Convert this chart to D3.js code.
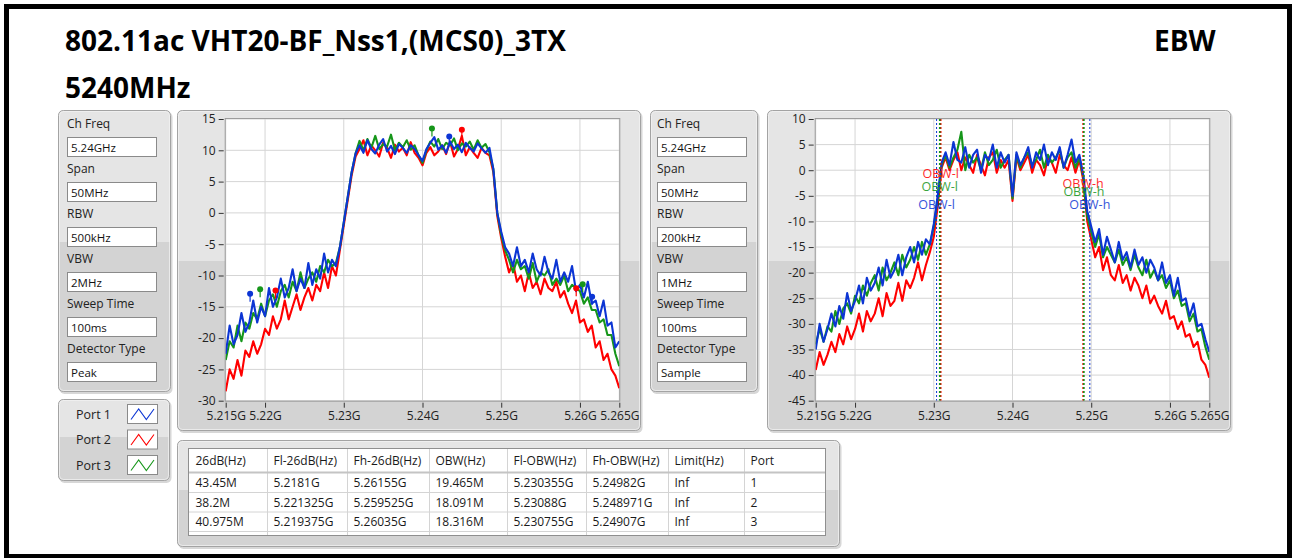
<!DOCTYPE html>
<html>
<head>
<meta charset="utf-8">
<script src="https://cdn.jsdelivr.net/npm/d3@7"></script>
<style>
body{margin:0;padding:0;overflow:hidden;background:#fff;}
text{font-family:"Open Sans","Noto Sans",sans-serif;}
</style>
</head>
<body>
<script>
// ---- data ----
const freqStart = 5.215, freqStep = 0.0005;          // GHz, sample grid of the traces
const freqTicks = [5.215, 5.22, 5.23, 5.24, 5.25, 5.26, 5.265];
const ebwTicks = [15, 10, 5, 0, -5, -10, -15, -20, -25, -30];
const obwTicks = [10, 5, 0, -5, -10, -15, -20, -25, -30, -35, -40, -45];

const portNames = ["Port 1", "Port 2", "Port 3"];
const settingLabels = ["Ch Freq", "Span", "RBW", "VBW", "Sweep Time", "Detector Type"];
const ebwSettings = ["5.24GHz", "50MHz", "500kHz", "2MHz", "100ms", "Peak"];
const obwSettings = ["5.24GHz", "50MHz", "200kHz", "1MHz", "100ms", "Sample"];

// left chart (EBW, peak detector), dBm per 0.5 MHz
const ebwPort1 = [-22.5,-18,-21,-19.5,-16,-19,-17.5,-14,-17.5,-15,-16.5,-12,-15,-13.5,-10.5,-13.5,-12,-9,-12.5,-10.5,
  -12,-8,-11.5,-9,-10.5,-6.5,-9.5,-7.5,-8.5,-5.5,-1.5,2.5,6.5,9.5,10.8,9.6,11.6,10.2,9.5,10.9,
  11.8,9.8,10.7,9.4,11,10.4,9.6,10.8,10.2,9.2,8.3,10.2,11.2,12.1,10.1,10.8,9.6,11.4,10.2,10.9,
  9.7,11.2,10.4,9.8,11.1,10.3,9.6,10.4,7,0,-3,-5.5,-6.5,-8.5,-5.5,-8.5,-7.5,-9.5,-6.5,-9,
  -10,-7,-9.5,-10.5,-7.5,-11,-9.5,-11,-8.5,-12.5,-11.5,-13.5,-11,-14.5,-14,-16.5,-14,-18,-17.5,-21.5,-20.5];
const ebwPort2 = [-28.5,-25,-26.5,-23.5,-26,-22,-23,-20.5,-22.5,-21,-18.5,-19.5,-16.5,-18.5,-17,-14,-17,-15,-13,-15.5,
  -13.5,-12,-14,-11.5,-12.5,-9.5,-12,-8.5,-10,-6,-2,2,6,9,10.2,11.6,9.2,10.8,10,9,
  11.2,10.4,8.8,10.9,9.8,10.4,9.2,11.3,9.6,8.8,7.6,9.6,10.5,9.2,9.8,10.8,9.4,11.4,9,10.2,
  12.3,9.2,10.5,9.6,8.8,10.4,9.6,9.2,6.5,-0.5,-4,-7,-9.5,-8,-11,-10,-12.5,-9.5,-12,-11,
  -13,-10.5,-12,-12.5,-11,-13.5,-12.5,-14.5,-16,-14,-17.5,-17,-19,-18,-21.5,-20.5,-23.5,-22.5,-25,-26,-28];
const ebwPort3 = [-23.5,-20.5,-21.5,-18,-20.5,-17.5,-18.5,-16,-17,-14.5,-16.5,-14,-13,-15,-12.5,-11.5,-13.5,-11,-12.5,-9.5,
  -12,-10.5,-9.5,-11,-8.5,-9.5,-7.5,-8.5,-8,-5.5,-1.5,2.5,6.5,9.5,11.5,10,11.8,10.4,12.3,10.2,
  11,10.6,12.5,10,11.2,10.5,11.6,10.1,10.8,9.2,8,10,11.4,10.6,11.8,10.2,11.2,10.8,11.9,10,
  11.1,10.6,11.4,10.1,11.6,10.4,11,9.7,7,0,-3.5,-6,-7.5,-9.5,-7.5,-9,-8.5,-10.5,-8,-11,
  -9.5,-10,-9,-11.5,-10.5,-11.5,-10,-12.5,-11.5,-12,-12.5,-14.5,-13.5,-15.5,-15.5,-17.5,-17,-19.5,-19.5,-22.5,-24.5];

// right chart (OBW, sample detector)
const obwPort1 = [-35,-30,-33.5,-31,-28,-30.5,-26.5,-29,-24,-27.5,-25.5,-22.5,-26,-21,-23.5,-22,-19,-22.5,-17.5,-21,
  -19.5,-16.5,-20.5,-17,-15,-18,-14,-16.5,-13.5,-14.5,-10.5,-5,1.5,3.5,1,5.5,2,1.5,4.5,0.5,
  3,4,-0.5,3,2,5,0.5,3.5,1.5,3,-5,3.5,1,2.5,4.5,0.5,3.5,2,5,1,
  3.5,2,4.5,0.5,3,6,1.5,3,-1,-8,-11,-14,-11.5,-16.5,-13,-15.5,-18,-14,-17.5,-16,
  -19,-15.5,-18.5,-17,-20,-17.5,-19,-21.5,-18,-22,-20.5,-24.5,-21,-25.5,-25,-28.5,-26,-30.5,-30,-33,-35.5];
const obwPort2 = [-39,-35.5,-38,-36,-33.5,-35.5,-32,-34,-30.5,-33,-31,-28,-31.5,-27.5,-29.5,-28,-25,-28.5,-24,-26.5,
  -25.5,-22,-25.5,-21.5,-23,-21,-18,-21.5,-18.5,-16,-13,-7,0.5,2.5,0,2,3.5,0,2.5,1,
  -0.5,3,1,-1,2.5,3.5,-0.5,2,0.5,2,-6,2.5,0,1.5,3,-0.5,2,1,-1,2.5,
  1.5,-0.5,3,1,0,2.5,-0.5,2,-2,-10,-13.5,-17,-15,-19.5,-17,-20.5,-21.5,-18.5,-22,-20.5,
  -23.5,-21,-22.5,-25,-22.5,-26,-24.5,-26.5,-28,-25.5,-29,-28.5,-31,-29.5,-32.5,-32,-34.5,-33.5,-37,-38,-40.5];
const obwPort3 = [-34,-31,-33.5,-30.5,-31.5,-27.5,-30,-27,-26,-28,-24.5,-26,-22.5,-24.5,-22,-20.5,-23.5,-19,-21.5,-20,
  -18,-20.5,-16.5,-19,-17.5,-15,-17.5,-14,-16.5,-14.5,-11,-5.5,1,3,0.5,2.5,4,7.5,0,3,
  1.5,2.5,0,3.5,1,2,4,0.5,2,3,-5.5,3,0.5,2.5,3.5,1,2,4,0.5,3,
  1.5,2.5,4,0.5,2.5,3.5,0.5,2.5,-1.5,-9,-12,-15,-12.5,-17,-15,-16.5,-18,-15.5,-18.5,-17,
  -19.5,-16.5,-19,-20.5,-17.5,-21,-19.5,-21.5,-20.5,-23,-21.5,-25,-23.5,-26.5,-26,-29.5,-28,-31.5,-31,-34.5,-37];

// results table, per port (GHz / MHz)
const tableHeaders = ["26dB(Hz)", "Fl-26dB(Hz)", "Fh-26dB(Hz)", "OBW(Hz)", "Fl-OBW(Hz)", "Fh-OBW(Hz)", "Limit(Hz)", "Port"];
const bw26 = [43.45, 38.2, 40.975];
const fl26 = [5.2181, 5.221325, 5.219375];
const fh26 = [5.26155, 5.259525, 5.26035];
const obw = [19.465, 18.091, 18.316];
const flObw = [5.230355, 5.23088, 5.230755];
const fhObw = [5.24982, 5.248971, 5.24907];
const limits = ["Inf", "Inf", "Inf"];

// markers on the EBW chart
const peakFreq = [5.2434, 5.245, 5.2412];
const peakDb = [12.2, 13.3, 13.5];
const fl26Db = [-12.9, -12.4, -12.2];
const fh26Db = [-13.4, -12.05, -11.4];
// OBW label heights on the right chart
const obwLowLabelDb = [-6.6, -0.6, -3.1];
const obwHighLabelDb = [-6.6, -2.6, -4.1];

const portColors = ["#0c35d4", "#ff0000", "#16961a"];

// ---- drawing ----
const W = 1292, H = 558;
const svg = d3.select("body").append("svg").attr("width", W).attr("height", H);
svg.append("rect").attr("width", W).attr("height", H).attr("fill", "#fff");
svg.append("rect").attr("x", 6.5).attr("y", 6.5).attr("width", 1283).attr("height", 550)
  .attr("fill", "none").attr("stroke", "#000").attr("stroke-width", 5);

svg.append("text").attr("x", 65).attr("y", 51).attr("font-size", 28).attr("font-weight", 700)
  .text("802.11ac VHT20-BF_Nss1,(MCS0)_3TX");
svg.append("text").attr("x", 65).attr("y", 98).attr("font-size", 28).attr("font-weight", 700).text("5240MHz");
svg.append("text").attr("x", 1154).attr("y", 51).attr("font-size", 28).attr("font-weight", 700).text("EBW");

let clipId = 0;
function panel(x, y, w, h, split) {
  const g = svg.append("g");
  g.append("rect").attr("x", x + 1.5).attr("y", y + 2).attr("width", w).attr("height", h).attr("rx", 5)
    .attr("fill", "#bdbdbd").attr("opacity", 0.6);
  const id = "pc" + (clipId++);
  g.append("clipPath").attr("id", id).append("rect").attr("x", x).attr("y", y).attr("width", w).attr("height", h).attr("rx", 5);
  const inner = g.append("g").attr("clip-path", `url(#${id})`);
  inner.append("rect").attr("x", x).attr("y", y).attr("width", w).attr("height", split - y).attr("fill", "#e5e5e5");
  inner.append("rect").attr("x", x).attr("y", split).attr("width", w).attr("height", y + h - split).attr("fill", "#d3d3d3");
  g.append("rect").attr("x", x + 0.5).attr("y", y + 0.5).attr("width", w - 1).attr("height", h - 1).attr("rx", 5)
    .attr("fill", "none").attr("stroke", "#a3a3a3");
  g.append("rect").attr("x", x + 1.5).attr("y", y + 1.5).attr("width", w - 3).attr("height", h - 3).attr("rx", 4)
    .attr("fill", "none").attr("stroke", "#f4f4f4").attr("opacity", 0.7);
  return g;
}

function settings(x, y, w, h, bx, values) {
  const g = panel(x, y, w, h, 242);
  settingLabels.forEach((lab, i) => {
    const ty = 128 + i * 45;
    g.append("text").attr("x", bx).attr("y", ty).attr("font-size", 12).attr("fill", "#222").text(lab);
    g.append("rect").attr("x", bx + 0.5).attr("y", ty + 9.5).attr("width", 89).attr("height", 19)
      .attr("fill", "#fff").attr("stroke", "#8a8a8a");
    g.append("text").attr("x", bx + 4).attr("y", ty + 23.5).attr("font-size", 11.5).attr("fill", "#111").text(values[i]);
  });
}
settings(58, 110, 113, 282, 67, ebwSettings);
settings(650, 110, 108, 282, 657, obwSettings);

// legend
const lg = panel(58, 399, 112, 82, 437);
portNames.forEach((p, i) => {
  const cy = 414 + i * 25.5;
  lg.append("text").attr("x", 76).attr("y", cy + 4.5).attr("font-size", 12.5).attr("fill", "#222").text(p);
  lg.append("rect").attr("x", 127.5).attr("y", cy - 9.5).attr("width", 30).attr("height", 19)
    .attr("fill", "#fff").attr("stroke", "#8a8a8a");
  const sx = d3.scaleLinear().domain([0, 3]).range([131, 154]);
  const zig = [[0, 5.5], [1, -5], [2, 5.5], [3, -5]];
  lg.append("path").attr("d", d3.line().x(d => sx(d[0])).y(d => cy + d[1])(zig))
    .attr("fill", "none").attr("stroke", portColors[i]).attr("stroke-width", 1.1);
});

function chart(opt) {
  const top = 119, bottom = 400.7, pw = 393.6;
  const g = panel(opt.px, 110, 464, 321, 261);
  const x = d3.scaleLinear().domain([freqTicks[0], freqTicks[freqTicks.length - 1]]).range([opt.left, opt.left + pw]);
  const y = d3.scaleLinear().domain(opt.yDomain).range([bottom, top]);
  g.append("rect").attr("x", opt.left).attr("y", top).attr("width", pw).attr("height", bottom - top).attr("fill", "#fff");
  g.selectAll(".gx").data(freqTicks).join("line").attr("x1", d => x(d)).attr("x2", d => x(d))
    .attr("y1", top).attr("y2", bottom).attr("stroke", "#d5d5d5");
  g.selectAll(".gy").data(opt.yTicks).join("line").attr("x1", opt.left).attr("x2", opt.left + pw)
    .attr("y1", d => y(d)).attr("y2", d => y(d)).attr("stroke", "#d5d5d5");
  g.append("rect").attr("x", opt.left - 0.5).attr("y", top - 0.5).attr("width", pw + 1).attr("height", bottom - top + 1)
    .attr("fill", "none").attr("stroke", "#9c9c9c");

  const id = "plot" + (clipId++);
  g.append("clipPath").attr("id", id).append("rect").attr("x", opt.left).attr("y", top).attr("width", pw).attr("height", bottom - top);
  const plot = g.append("g").attr("clip-path", `url(#${id})`);
  const line = d3.line().x((d, i) => x(freqStart + i * freqStep)).y(d => y(d));
  [1, 2, 0].forEach(p => {
    plot.append("path").attr("d", line(opt.series[p])).attr("fill", "none")
      .attr("stroke", portColors[p]).attr("stroke-width", 2.1).attr("stroke-linejoin", "round");
  });

  const ya = g.append("g").attr("transform", `translate(${opt.left - 2},0)`)
    .call(d3.axisLeft(y).tickValues(opt.yTicks).tickSize(5).tickPadding(3).tickFormat(d => String(d)));
  const xa = g.append("g").attr("transform", `translate(0,${bottom + 2})`)
    .call(d3.axisBottom(x).tickValues(freqTicks).tickSize(5).tickPadding(4).tickFormat(d => d + "G"));
  [ya, xa].forEach(a => {
    a.select(".domain").remove();
    a.selectAll("line").attr("stroke", "#333");
    a.selectAll("text").attr("font-size", 12).attr("fill", "#222").attr("font-family", "Open Sans");
  });
  return { g, plot, x, y };
}

const left = chart({ px: 177, left: 225.7, yDomain: [-30, 15], yTicks: ebwTicks, series: [ebwPort1, ebwPort2, ebwPort3] });
const right = chart({ px: 767, left: 815.7, yDomain: [-45, 10], yTicks: obwTicks, series: [obwPort1, obwPort2, obwPort3] });

// EBW markers (peak and -26 dB points)
[0, 1, 2].forEach(p => {
  const pts = [[peakFreq[p], peakDb[p]], [fl26[p], fl26Db[p]], [fh26[p], fh26Db[p]]];
  pts.forEach(d => {
    left.plot.append("line").attr("x1", left.x(d[0])).attr("x2", left.x(d[0]))
      .attr("y1", left.y(d[1])).attr("y2", left.y(d[1]) + 8).attr("stroke", portColors[p]).attr("stroke-width", 1.2);
    left.plot.append("circle").attr("cx", left.x(d[0])).attr("cy", left.y(d[1])).attr("r", 3)
      .attr("fill", portColors[p]);
  });
});

// OBW cursors
[1, 2, 0].forEach(p => {
  [flObw[p], fhObw[p]].forEach(f => {
    right.plot.append("line").attr("x1", right.x(f)).attr("x2", right.x(f)).attr("y1", 119).attr("y2", 400.7)
      .attr("stroke", portColors[p]).attr("stroke-width", p === 0 ? 1 : 1.6).attr("stroke-dasharray", "2,2");
  });
});
[1, 2, 0].forEach(p => {
  right.plot.append("text").attr("x", right.x(flObw[p])).attr("y", right.y(obwLowLabelDb[p]) + 4.5)
    .attr("text-anchor", "middle").attr("font-size", 12.5).attr("fill", portColors[p]).attr("opacity", 0.85).text("OBW-l");
  right.plot.append("text").attr("x", right.x(fhObw[p])).attr("y", right.y(obwHighLabelDb[p]) + 4.5)
    .attr("text-anchor", "middle").attr("font-size", 12.5).attr("fill", portColors[p]).attr("opacity", 0.85).text("OBW-h");
});

// results table
const tp = panel(177, 440, 663, 107, 490);
const colX = [189, 267, 347, 429, 507, 586, 668, 744, 825];
const rowY = [449, 472, 492, 511.5, 531, 535];
tp.append("rect").attr("x", colX[0]).attr("y", rowY[0]).attr("width", colX[8] - colX[0]).attr("height", rowY[5] - rowY[0])
  .attr("fill", "#fff");
tp.selectAll(".cl").data(colX.slice(1, 8)).join("line").attr("x1", d => d + 0.5).attr("x2", d => d + 0.5)
  .attr("y1", rowY[0]).attr("y2", rowY[5]).attr("stroke", "#d4d4d4");
tp.selectAll(".rl").data(rowY.slice(1, 5)).join("line").attr("x1", colX[0]).attr("x2", colX[8])
  .attr("y1", d => d + 0.5).attr("y2", d => d + 0.5).attr("stroke", (d, i) => i === 0 ? "#c4c4c4" : "#d4d4d4")
  .attr("stroke-width", (d, i) => i === 0 ? 2 : 1);
tp.append("rect").attr("x", colX[0] - 0.5).attr("y", rowY[0] - 0.5).attr("width", colX[8] - colX[0] + 1)
  .attr("height", rowY[5] - rowY[0] + 1).attr("fill", "none").attr("stroke", "#8f8f8f");
const rows = [0, 1, 2].map(i => [bw26[i] + "M", fl26[i] + "G", fh26[i] + "G", obw[i] + "M",
  flObw[i] + "G", fhObw[i] + "G", limits[i], String(i + 1)]);
[tableHeaders].concat(rows).forEach((r, ri) => {
  const base = ri === 0 ? 465 : 487 + (ri - 1) * 19.5;
  r.forEach((t, ci) => {
    tp.append("text").attr("x", colX[ci] + 6.5).attr("y", base).attr("font-size", 12).attr("fill", "#1a1a1a").text(t);
  });
});
</script>
</body>
</html>
